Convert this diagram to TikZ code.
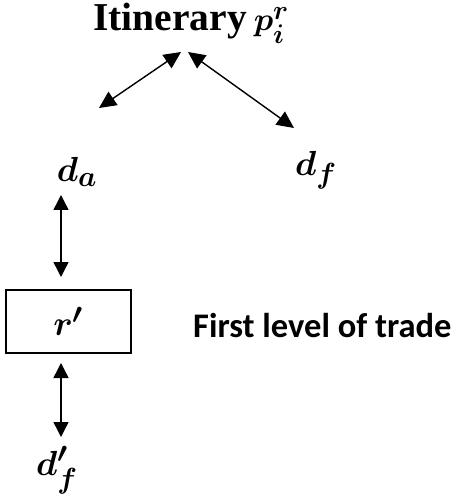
\documentclass[tikz,border=0pt]{standalone}
\usepackage{amsmath,bm,graphicx}
\usepackage{fontspec}
\setmainfont{Liberation Serif}
\newfontfamily\calib{Carlito}
\usetikzlibrary{arrows.meta}
\newcommand\bigmath[1]{\scalebox{1.4}{\Huge$\bm{#1}$}}
\begin{document}
\begin{tikzpicture}[x=1pt,y=-1pt,
  lab/.style={inner sep=0pt,font=\fontsize{34}{40}\selectfont},
  link/.style={line width=1.4pt,
    {Triangle[length=15pt,width=15pt]}-{Triangle[length=15pt,width=15pt]}},
  toplink/.style={link,{Triangle[length=17pt,width=16pt]}-{Triangle[length=17pt,width=16pt]}},
  tradebox/.style={draw,line width=1.2pt,minimum width=125pt,minimum height=63pt,inner sep=0pt}]
\useasboundingbox (0,0) rectangle (459,502);
\node[inner sep=0pt,anchor=base west,font=\fontsize{39.5}{44}\selectfont] (title) at (93,31) {\bfseries Itinerary\hspace{7pt}\scalebox{1.3}{\Huge$\bm{p_i^r}$}};
\node[lab] (da) at (77,172) {\bigmath{d_a}};
\node[lab] (df) at (316,170) {\bigmath{d_f}};
\node[tradebox] (r) at (68.5,321.5) {\bigmath{r'}};
\node[lab] (dfp) at (57,470) {\bigmath{d'_f}};
\node[inner sep=0pt,anchor=base west,font=\fontsize{34.5}{40}\selectfont\calib\bfseries] (lvl) at (193,337) {First level of trade};
\coordinate (a1) at (99,108);
\coordinate (a2) at (181,52);
\coordinate (b1) at (188,52);
\coordinate (b2) at (294,128);
\coordinate (c1) at (61,195);
\coordinate (c2) at (61,277);
\coordinate (e1) at (61,363);
\coordinate (e2) at (61,437);
\draw[toplink] (a1) -- (a2);
\draw[toplink] (b1) -- (b2);
\draw[link] (c1) -- (c2);
\draw[link] (e1) -- (e2);
\end{tikzpicture}
\end{document}
